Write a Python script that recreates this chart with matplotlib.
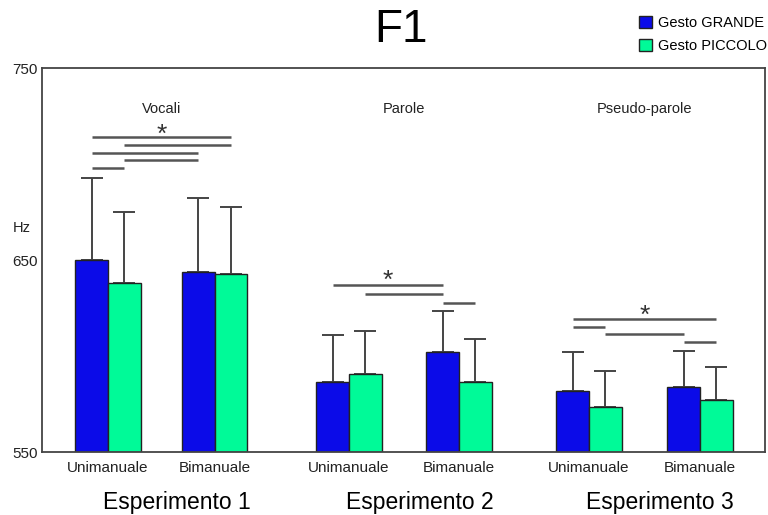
import numpy as np
import matplotlib.pyplot as plt
from matplotlib.patches import Patch

plt.rcParams['font.family'] = ['Liberation Sans', 'DejaVu Sans']

### Data ###

# group centre positions (two per experiment) and labels
group_x = [0, 0.97, 2.19, 3.19, 4.37, 5.38]
group_labels = ['Unimanuale', 'Bimanuale'] * 3
experiments = ['Esperimento 1', 'Esperimento 2', 'Esperimento 3']
subtitles = ['Vocali', 'Parole', 'Pseudo-parole']

# mean F1 (Hz) and upper error bar end
grande = [650, 644, 586.5, 602, 582, 584]
grande_err = [693, 682.5, 611, 623.5, 602, 603]
piccolo = [638, 643, 591, 586.5, 573.5, 577.5]
piccolo_err = [675, 678, 613, 609, 592.5, 594.5]

# significance lines: (from bar, to bar, height) ; bar index = group*2 + (0 grande / 1 piccolo)
sig_lines = [(0, 3, 714), (1, 3, 710), (0, 2, 706), (1, 2, 702), (0, 1, 698),
             (4, 6, 637), (5, 6, 632.5), (6, 7, 628),
             (8, 11, 619.5), (8, 9, 615.5), (9, 10, 611.5), (10, 11, 607.5)]
stars = [(0, 3, 718.5), (4, 6, 642.5), (8, 11, 624)]

blue = '#0b0be8'
green = '#00fa98'
w = 0.297

fig = plt.figure(figsize=(7.68, 5.15), dpi=100)
ax = fig.add_axes([42/768, 1-452.3/515, 723/768, 384/515])

gx = np.array(group_x)
x_blue = gx - w/2
x_green = gx + w/2

ax.bar(x_blue, np.array(grande) - 550, w, bottom=550, color=blue, edgecolor='#222222', linewidth=1, zorder=2)
ax.bar(x_green, np.array(piccolo) - 550, w, bottom=550, color=green, edgecolor='#222222', linewidth=1, zorder=2)

# upward error bars only
ax.errorbar(x_blue, grande, yerr=[np.zeros(6), np.array(grande_err) - np.array(grande)],
            fmt='none', ecolor='#444444', elinewidth=1.4, capsize=8, capthick=1.4, zorder=1)
ax.errorbar(x_green, piccolo, yerr=[np.zeros(6), np.array(piccolo_err) - np.array(piccolo)],
            fmt='none', ecolor='#444444', elinewidth=1.4, capsize=8, capthick=1.4, zorder=1)

# bar centres in order blue, green, blue, green ...
centres = np.ravel(np.column_stack([x_blue, x_green]))
for a, b, h in sig_lines:
    ax.plot([centres[a], centres[b]], [h, h], color='#555555', lw=1.8, solid_capstyle='butt')
for a, b, h in stars:
    ax.text((centres[a] + centres[b]) / 2, h - 3, '*', ha='center', va='center', fontsize=19, color='#333333')

for i, s in enumerate(subtitles):
    ax.text((gx[2*i] + gx[2*i+1]) / 2, 729, s, ha='center', va='center', fontsize=10.5, color='#222222')

ax.set_ylim(550, 750)
ax.set_xlim(-0.6, 5.97)
ax.set_yticks([550, 650, 750])
ax.set_xticks(gx)
ax.set_xticklabels(group_labels)
ax.tick_params(length=0, labelsize=11, colors='#222222', pad=6)
ax.tick_params(axis='y', labelsize=11, pad=3)
for sp in ax.spines.values():
    sp.set_color('#444444')
    sp.set_linewidth(1.3)

fig.text(22/768, 1-228/515, 'Hz', ha='center', va='center', fontsize=10.5, color='#222222')
fig.text(401/768, 1-30/515, 'F1', ha='center', va='center', fontsize=33)

# experiment names below the tick labels
for i, e in enumerate(experiments):
    xc = (gx[2*i] + gx[2*i+1]) / 2 + 0.14
    ax.annotate(e, xy=(xc, 0), xycoords=('data', 'axes fraction'), xytext=(0, -36),
                textcoords='offset points', ha='center', va='center', fontsize=16.5)

handles = [Patch(facecolor=blue, edgecolor='#222222', label='Gesto GRANDE'),
           Patch(facecolor=green, edgecolor='#222222', label='Gesto PICCOLO')]
fig.legend(handles=handles, loc='upper left', bbox_to_anchor=(626/768, 1 - 3/515), frameon=False,
           fontsize=10.5, handlelength=0.9, handleheight=0.9, handletextpad=0.4, labelspacing=0.6)

plt.savefig('out.png', dpi=100)
